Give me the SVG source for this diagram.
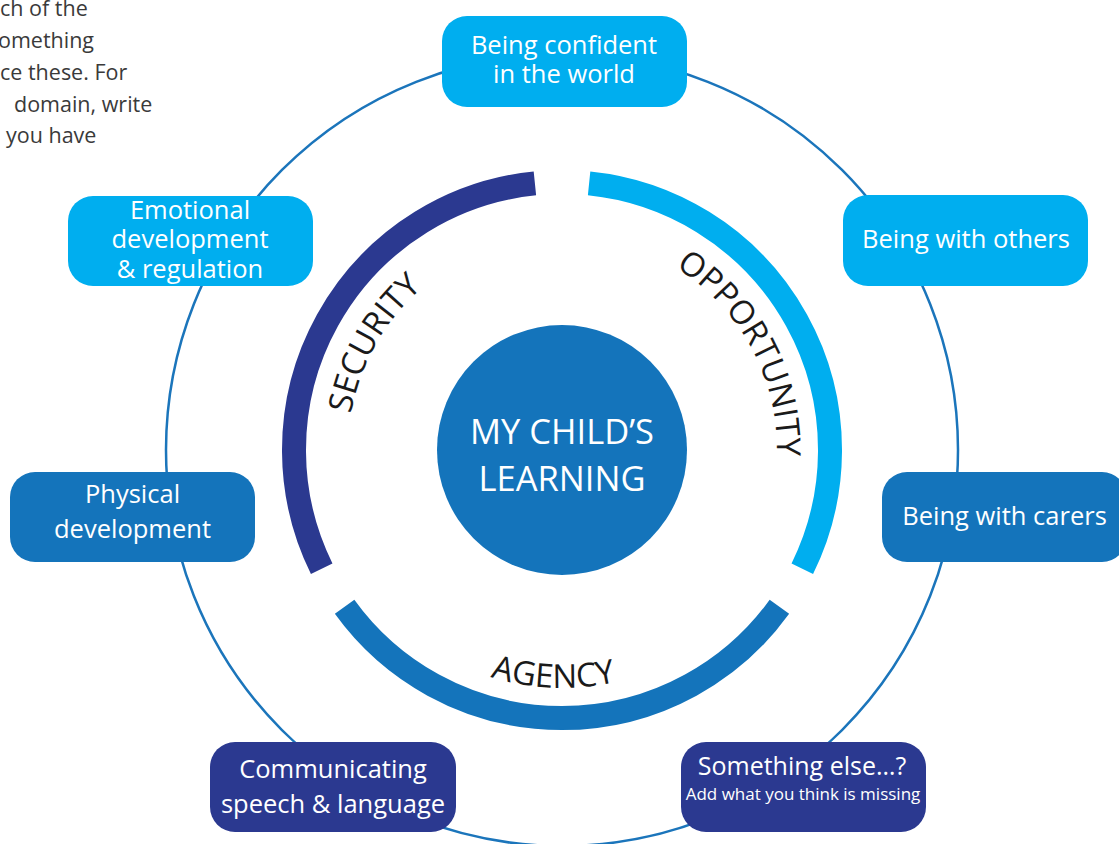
<svg xmlns="http://www.w3.org/2000/svg" width="1119" height="844" viewBox="0 0 1119 844">
  <style>
    .ring { fill: none; stroke: #1B75BB; stroke-width: 2.5; }
    .band { fill: none; stroke-width: 24; stroke-linecap: butt; }
    .box { stroke: none; }
    .cyan { fill: #00AEEF; }
    .mid { fill: #1474BB; }
    .navy { fill: #2B3990; }
    .lbl { font-family: "Open Sans", "Liberation Sans", sans-serif; fill: #FFFFFF; text-anchor: middle; font-size: 25.5px; }
    .small { font-size: 17px; }
    .arc-lbl { font-family: "Open Sans", "Liberation Sans", sans-serif; fill: #1A1A1A; font-size: 33px; }
    .note { font-family: "Open Sans", "Liberation Sans", sans-serif; fill: #3A3A3A; font-size: 21.5px; }
  </style>
  <defs>
    <path id="p-security" d="M377.6,558.6 A214,214 0 0 1 560.1,236.0"/>
    <path id="p-opportunity" d="M568.4,235.1 A215,215 0 0 1 744.9,563.0"/>
    <path id="p-agency" d="M351.5,561.0 A238,238 0 0 0 763.4,576.8"/>
  </defs>

  <rect width="1119" height="844" fill="#FFFFFF"/>

  <!-- paragraph fragment at the top-left edge -->
  <g id="note">
    <text class="note" x="0" y="16">ch of the</text>
    <text class="note" x="-2" y="48">omething</text>
    <text class="note" x="0" y="80">ce these. For</text>
    <text class="note" x="14" y="112">domain, write</text>
    <text class="note" x="6" y="143">you have</text>
  </g>

  <!-- ring linking the outer domains -->
  <g id="connectors">
    <circle class="ring" cx="562" cy="450" r="396"/>
  </g>

  <!-- three coloured bands round the centre -->
  <g id="band-security">
    <path class="band" stroke="#2B3990" d="M321.7,568.7 A268,268 0 0 1 534.9,183.4"/>
    <text class="arc-lbl"><textPath href="#p-security" startOffset="50%" text-anchor="middle">SECURITY</textPath></text>
  </g>
  <g id="band-opportunity">
    <path class="band" stroke="#00AEEF" d="M589.1,183.4 A268,268 0 0 1 802.3,568.7"/>
    <text class="arc-lbl"><textPath href="#p-opportunity" startOffset="50%" text-anchor="middle">OPPORTUNITY</textPath></text>
  </g>
  <g id="band-agency">
    <path class="band" stroke="#1474BB" d="M779.4,606.8 A268,268 0 0 1 344.6,606.8"/>
    <text class="arc-lbl"><textPath href="#p-agency" startOffset="50%" text-anchor="middle">AGENCY</textPath></text>
  </g>

  <g id="centre">
    <circle cx="562" cy="450" r="125" fill="#1474BB"/>
    <text class="lbl" style="font-size:34.5px" x="562" y="444">MY CHILD’S</text>
    <text class="lbl" style="font-size:34.5px" x="562" y="491">LEARNING</text>
  </g>

  <g id="node-confident">
    <rect class="box cyan" x="442" y="16" width="245" height="91" rx="25"/>
    <text class="lbl" x="564" y="54">Being confident</text>
    <text class="lbl" x="564" y="83">in the world</text>
  </g>
  <g id="node-others">
    <rect class="box cyan" x="843" y="195" width="245" height="91" rx="25"/>
    <text class="lbl" x="966" y="248">Being with others</text>
  </g>
  <g id="node-emotional">
    <rect class="box cyan" x="68" y="196" width="245" height="90" rx="25"/>
    <text class="lbl" x="190" y="219">Emotional</text>
    <text class="lbl" x="190" y="248">development</text>
    <text class="lbl" x="190" y="278">&amp; regulation</text>
  </g>
  <g id="node-physical">
    <rect class="box mid" x="10" y="472" width="245" height="90" rx="25"/>
    <text class="lbl" x="132.5" y="503">Physical</text>
    <text class="lbl" x="132.5" y="538">development</text>
  </g>
  <g id="node-carers">
    <rect class="box mid" x="882" y="472" width="245" height="90" rx="25"/>
    <text class="lbl" x="1004.5" y="525">Being with carers</text>
  </g>
  <g id="node-communicating">
    <rect class="box navy" x="210" y="742" width="246" height="90" rx="25"/>
    <text class="lbl" x="333" y="778">Communicating</text>
    <text class="lbl" x="333" y="813">speech &amp; language</text>
  </g>
  <g id="node-else">
    <rect class="box navy" x="681" y="742" width="245" height="90" rx="25"/>
    <text class="lbl" style="font-size:25px" x="802" y="775">Something else…?</text>
    <text class="lbl small" x="803" y="800">Add what you think is missing</text>
  </g>
</svg>
